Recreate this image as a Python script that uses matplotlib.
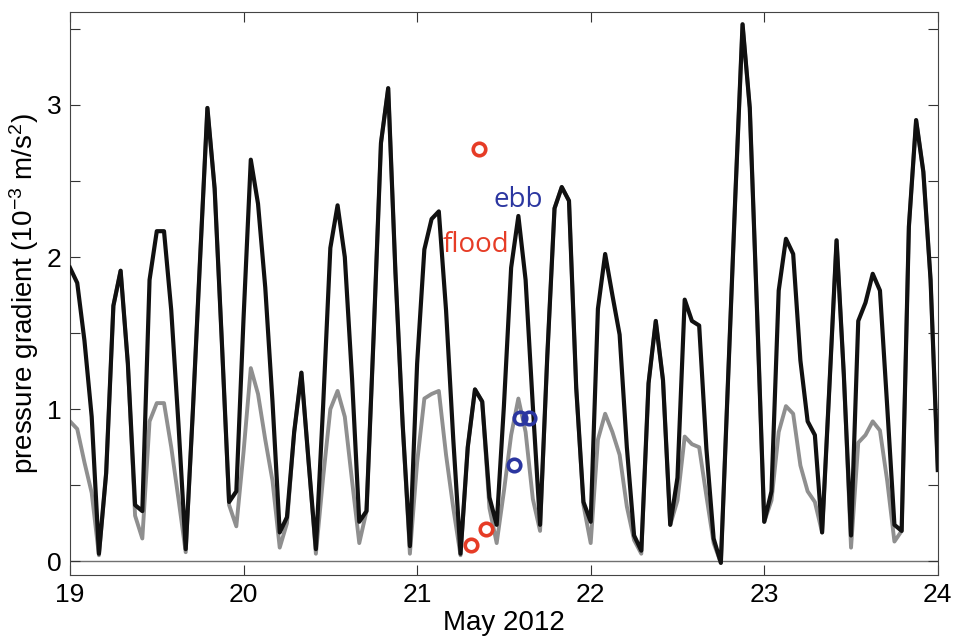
import matplotlib
matplotlib.use("Agg")
import matplotlib.pyplot as plt
import numpy as np

plt.rcParams['font.family'] = ['Liberation Sans', 'DejaVu Sans']
plt.rcParams['mathtext.fontset'] = 'custom'
plt.rcParams['mathtext.rm'] = 'Liberation Sans'
plt.rcParams['mathtext.it'] = 'Liberation Sans:italic'

# hourly samples, 19 May 00:00 to 24 May 00:00
hours = np.arange(121)
days = 19 + hours / 24.0

total = [1.93, 1.83, 1.45, 0.95, 0.05, 0.58, 1.68, 1.91, 1.30, 0.37,
         0.33, 1.85, 2.17, 2.17, 1.65, 0.90, 0.08, 1.00, 2.00, 2.98,
         2.45, 1.44, 0.39, 0.46, 1.60, 2.64, 2.35, 1.80, 1.05, 0.19,
         0.29, 0.85, 1.24, 0.65, 0.08, 1.02, 2.06, 2.34, 2.00, 1.20,
         0.26, 0.33, 1.50, 2.75, 3.11, 1.90, 0.90, 0.10, 1.30, 2.05,
         2.25, 2.30, 1.65, 0.80, 0.05, 0.75, 1.13, 1.05, 0.42, 0.24,
         1.02, 1.93, 2.27, 1.85, 1.02, 0.24, 1.35, 2.32, 2.46, 2.37,
         1.14, 0.39, 0.26, 1.66, 2.02, 1.75, 1.49, 0.75, 0.17, 0.07,
         1.17, 1.58, 1.19, 0.24, 0.55, 1.72, 1.58, 1.55, 0.74, 0.15,
         -0.01, 1.20, 2.40, 3.53, 2.98, 1.65, 0.26, 0.46, 1.78, 2.12,
         2.02, 1.32, 0.92, 0.83, 0.19, 1.14, 2.11, 1.23, 0.17, 1.58,
         1.70, 1.89, 1.78, 1.02, 0.24, 0.20, 2.20, 2.90, 2.56, 1.85,
         0.60]

part = [0.92, 0.87, 0.65, 0.45, 0.04, 0.58, 1.68, 1.91, 1.30, 0.30,
        0.15, 0.92, 1.04, 1.04, 0.75, 0.41, 0.06, 1.00, 2.00, 2.98,
        2.45, 1.44, 0.37, 0.23, 0.72, 1.27, 1.10, 0.80, 0.53, 0.09,
        0.25, 0.85, 1.24, 0.65, 0.05, 0.55, 1.00, 1.12, 0.95, 0.53,
        0.12, 0.33, 1.50, 2.75, 3.11, 1.90, 0.90, 0.05, 0.65, 1.07,
        1.10, 1.12, 0.70, 0.35, 0.04, 0.75, 1.13, 1.05, 0.35, 0.12,
        0.46, 0.83, 1.07, 0.85, 0.41, 0.20, 1.35, 2.32, 2.46, 2.37,
        1.14, 0.37, 0.12, 0.80, 0.97, 0.85, 0.70, 0.36, 0.14, 0.05,
        1.17, 1.58, 1.19, 0.24, 0.40, 0.82, 0.77, 0.75, 0.43, 0.12,
        -0.01, 1.20, 2.40, 3.53, 2.98, 1.65, 0.26, 0.40, 0.85, 1.02,
        0.97, 0.63, 0.46, 0.39, 0.19, 1.14, 2.11, 1.23, 0.09, 0.78,
        0.83, 0.92, 0.86, 0.53, 0.13, 0.20, 2.20, 2.90, 2.56, 1.85,
        0.60]

flood_t = [21.356, 21.31, 21.396]
flood_v = [2.71, 0.105, 0.215]
ebb_t = [21.558, 21.59, 21.646]
ebb_v = [0.63, 0.94, 0.94]

fig = plt.figure(figsize=(9.55, 6.37), dpi=100)
ax = fig.add_axes([0.0733, 0.0973, 0.9087, 0.8837])

ax.axhline(0, color='#707070', lw=1.0, zorder=1)
ax.plot(days, part, color='#8f8f8f', lw=2.8, zorder=2)
ax.plot(days, total, color='#111111', lw=3.0, zorder=3)

ax.plot(flood_t, flood_v, 'o', mfc='none', mec='#e63c26', ms=9, mew=2.6, zorder=4)
ax.plot(ebb_t, ebb_v, 'o', mfc='none', mec='#2b36a0', ms=9, mew=2.6, zorder=4)

# label positions in pixels from the top-left of the figure
ax.text(476, 637 - 245, 'flood', transform=None, color='#e63c26', fontsize=20,
        family=['Open Sans', 'DejaVu Sans'], ha='center', va='center')
ax.text(518, 637 - 200, 'ebb', transform=None, color='#2b36a0', fontsize=20,
        family=['Open Sans', 'DejaVu Sans'], ha='center', va='center')

ax.set_xlim(19, 24)
ax.set_ylim(-0.09, 3.61)
ax.set_xticks([19, 20, 21, 22, 23, 24])
ax.set_yticks(np.arange(0, 3.6, 0.5))
ax.set_yticklabels(['0', '', '1', '', '2', '', '3', ''])
ax.tick_params(direction='in', length=7, width=0.8, color='#333333',
               top=True, right=True, labelsize=19, pad=6)
for s in ax.spines.values():
    s.set_linewidth(0.8)
    s.set_color('#444444')

ax.set_xlabel('May 2012', fontsize=20, labelpad=2)
ax.set_ylabel(r'pressure gradient (10$^{-3}$ m/s$^{2}$)', fontsize=20, labelpad=4)

fig.savefig('out.png', dpi=100)
